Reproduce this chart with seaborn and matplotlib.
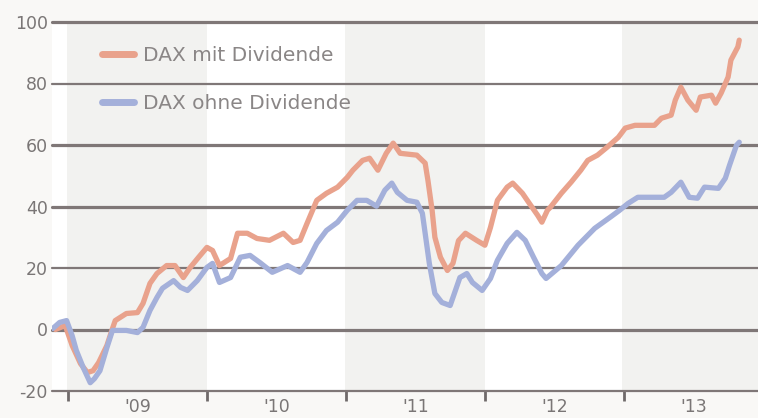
import matplotlib
matplotlib.use("Agg")
import matplotlib.pyplot as plt
import seaborn as sns
import pandas as pd

# ---- data ----
years_mit = [2008.91, 2008.98, 2009.03, 2009.09, 2009.14, 2009.18, 2009.22, 2009.28, 2009.32, 2009.34,
             2009.42, 2009.50, 2009.54, 2009.59, 2009.64, 2009.71, 2009.77, 2009.83, 2009.88, 2009.94,
             2010.00, 2010.04, 2010.09, 2010.17, 2010.22, 2010.29, 2010.36, 2010.45, 2010.55, 2010.62,
             2010.67, 2010.72, 2010.79, 2010.86, 2010.94, 2011.01, 2011.05, 2011.12, 2011.17, 2011.23,
             2011.29, 2011.34, 2011.39, 2011.51, 2011.57, 2011.59, 2011.62, 2011.64, 2011.68, 2011.73,
             2011.77, 2011.81, 2011.86, 2011.94, 2012.00, 2012.04, 2012.09, 2012.16, 2012.20, 2012.27,
             2012.32, 2012.38, 2012.41, 2012.45, 2012.47, 2012.55, 2012.62, 2012.69, 2012.74, 2012.81,
             2012.88, 2012.96, 2013.01, 2013.08, 2013.22, 2013.27, 2013.34, 2013.37, 2013.41, 2013.46,
             2013.52, 2013.55, 2013.63, 2013.66, 2013.70, 2013.75, 2013.77, 2013.82, 2013.83]
dax_mit = [0.0, 1.3, -5.2, -11.1, -14.0, -13.4, -10.8, -5.2, 0.3, 2.9,
           5.2, 5.5, 8.5, 15.0, 18.2, 20.8, 20.8, 16.9, 20.2, 23.5,
           26.7, 25.7, 20.8, 23.1, 31.3, 31.3, 29.6, 29.0, 31.3, 28.3,
           29.0, 34.5, 42.0, 44.3, 46.3, 49.5, 51.8, 55.0, 55.7, 51.8,
           57.3, 60.6, 57.3, 56.7, 54.1, 48.5, 38.8, 30.0, 23.5, 19.2,
           21.5, 28.9, 31.3, 29.0, 27.4, 33.2, 42.0, 46.3, 47.6, 44.3,
           41.0, 37.1, 34.9, 38.8, 39.7, 44.3, 47.9, 51.8, 55.0, 56.7,
           59.3, 62.5, 65.5, 66.4, 66.4, 68.7, 69.7, 74.6, 78.8, 74.6,
           71.3, 75.6, 76.2, 73.6, 76.9, 82.1, 87.6, 91.9, 94.1]

years_ohne = [2008.89, 2008.94, 2008.99, 2009.03, 2009.06, 2009.11, 2009.16, 2009.19, 2009.23, 2009.28,
              2009.32, 2009.42, 2009.50, 2009.54, 2009.59, 2009.64, 2009.68, 2009.76, 2009.81, 2009.86,
              2009.93, 2010.00, 2010.04, 2010.09, 2010.17, 2010.24, 2010.31, 2010.38, 2010.47, 2010.58,
              2010.67, 2010.72, 2010.79, 2010.86, 2010.94, 2011.01, 2011.08, 2011.15, 2011.22, 2011.28,
              2011.33, 2011.37, 2011.44, 2011.51, 2011.55, 2011.57, 2011.60, 2011.64, 2011.69, 2011.75,
              2011.78, 2011.82, 2011.87, 2011.91, 2011.98, 2012.04, 2012.09, 2012.16, 2012.23, 2012.29,
              2012.35, 2012.41, 2012.44, 2012.55, 2012.67, 2012.79, 2012.91, 2012.97, 2013.03, 2013.10,
              2013.29, 2013.34, 2013.41, 2013.47, 2013.53, 2013.58, 2013.68, 2013.73, 2013.76, 2013.81,
              2013.83]
dax_ohne = [0.3, 2.3, 2.9, -2.0, -6.8, -12.4, -17.3, -16.0, -13.4, -5.9,
            -0.3, -0.3, -1.0, 0.7, 6.2, 10.4, 13.4, 15.9, 13.7, 12.7,
            15.9, 20.2, 21.5, 15.3, 16.9, 23.5, 24.1, 21.8, 18.6, 20.8,
            18.6, 21.8, 28.0, 32.2, 34.9, 38.8, 42.0, 42.0, 40.1, 45.3,
            47.6, 44.6, 42.0, 41.4, 37.8, 31.3, 21.5, 11.7, 8.8, 7.8,
            11.7, 16.9, 18.2, 15.3, 12.7, 16.6, 22.5, 28.0, 31.6, 29.0,
            23.5, 18.2, 16.6, 20.8, 27.4, 32.9, 36.8, 38.8, 41.0, 43.0,
            43.0, 44.6, 47.9, 43.0, 42.7, 46.3, 45.9, 49.2, 53.4, 59.9,
            60.9]

series_names = ["DAX mit Dividende", "DAX ohne Dividende"]
series_colors = ["#e9a28c", "#a4b0da"]
y_ticks = [-20, 0, 20, 40, 60, 80, 100]
y_labels = ["-20", "0", "20", "40", "60", "80", "100"]
year_starts = [2009, 2010, 2011, 2012, 2013]
year_labels = ["'09", "'10", "'11", "'12", "'13"]

df = pd.concat([
    pd.DataFrame({"year": years_mit, "value": dax_mit, "series": series_names[0]}),
    pd.DataFrame({"year": years_ohne, "value": dax_ohne, "series": series_names[1]}),
], ignore_index=True)

# ---- figure ----
sns.set_style("white")
plt.rcParams["font.family"] = ["DejaVu Sans"]
fig = plt.figure(figsize=(7.58, 4.18), dpi=100, facecolor="#f9f8f6")
ax = fig.add_axes([52 / 758, 27 / 418, 706 / 758, 369 / 418])
ax.set_facecolor("white")

x0, x1 = 2008.885, 2013.965
ax.set_xlim(x0, x1)
ax.set_ylim(-20, 100)

# alternating year bands
for i, ys in enumerate(year_starts):
    if i % 2 == 0:
        ax.axvspan(ys - 0.01, min(ys + 1, x1), color="#f2f2f0", lw=0, zorder=0)

# gridlines
for t in y_ticks:
    lw = 2.3 if t in (0, 40, 60, 100) else 1.6
    ax.axhline(t, color="#7f7777", lw=lw, zorder=1, clip_on=False)

sns.lineplot(data=df, x="year", y="value", hue="series", hue_order=series_names,
             palette=series_colors, linewidth=3.8, estimator=None, sort=False, ax=ax)
# blue line drawn above the orange one, as in the reference
lines = [l for l in ax.get_lines() if len(l.get_xdata()) > 2]
if len(lines) >= 2:
    lines[0].set_zorder(3)
    lines[1].set_zorder(4)

for s in ax.spines.values():
    s.set_visible(False)

ax.set_yticks(y_ticks)
ax.set_yticklabels(y_labels)
ax.tick_params(axis="y", left=False, length=0, pad=3, labelsize=12.5, labelcolor="#7a7676")

ax.set_xticks(year_starts)
ax.set_xticklabels([])
ax.set_xticks([y + 0.5 for y in year_starts], minor=True)
ax.set_xticklabels(year_labels, minor=True)
ax.tick_params(axis="x", which="major", bottom=True, length=7, width=2, color="#6f6a6a", direction="out")
ax.tick_params(axis="x", which="minor", bottom=True, length=0, pad=5, labelsize=12.5, labelcolor="#7a7676")
ax.set_xlabel("")
ax.set_ylabel("")

leg = ax.legend(loc="upper left", bbox_to_anchor=(0.045, 0.985), frameon=False,
                fontsize=14.5, handlelength=1.6, handletextpad=0.45, labelspacing=1.45)
for line in leg.get_lines():
    line.set_linewidth(5)
for txt in leg.get_texts():
    txt.set_color("#8a8686")

fig.savefig("out.png", dpi=100, facecolor=fig.get_facecolor())
